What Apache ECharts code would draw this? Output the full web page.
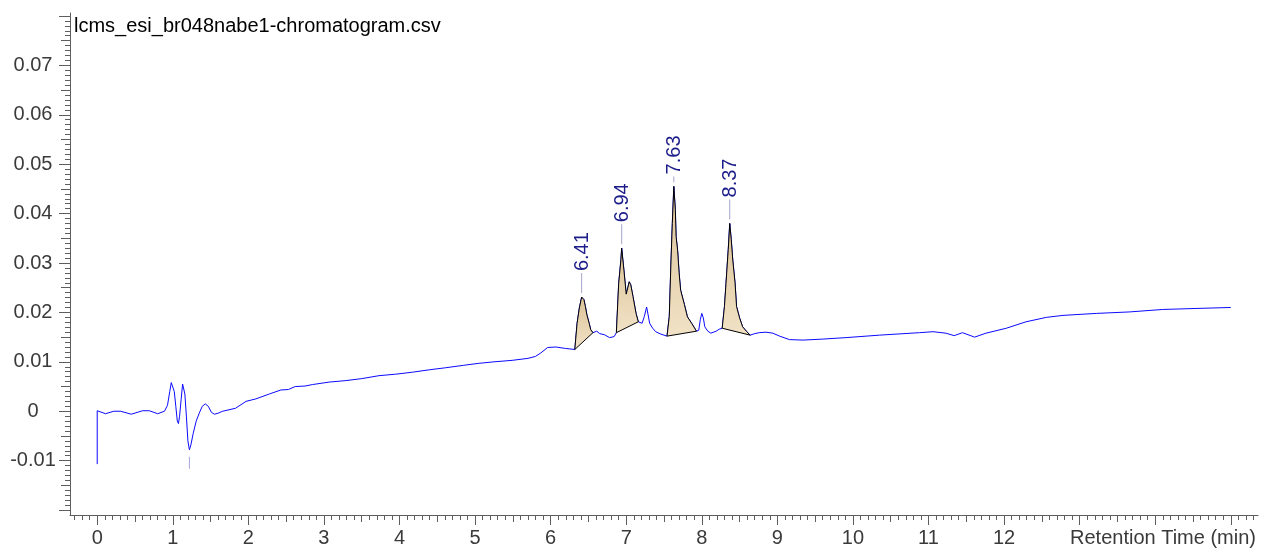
<!DOCTYPE html>
<html><head><meta charset="utf-8">
<script src="https://cdn.jsdelivr.net/npm/echarts@6/dist/echarts.min.js"></script>
<style>html,body{margin:0;padding:0;background:#fff}#c{width:1261px;height:548px}</style>
</head><body><div id="c"></div>
<script>
const chartTitle = 'lcms_esi_br048nabe1-chromatogram.csv';
const xAxisName = 'Retention Time (min)';
const times = [0.00,0.00,0.02,0.11,0.22,0.31,0.45,0.60,0.69,0.80,0.89,0.93,0.96,0.98,1.00,1.02,1.04,1.06,1.075,1.09,1.11,1.13,1.145,1.16,1.18,1.20,1.22,1.24,1.27,1.31,1.35,1.39,1.43,1.47,1.51,1.55,1.60,1.66,1.83,1.97,2.10,2.28,2.43,2.53,2.62,2.75,2.85,3.07,3.29,3.50,3.73,3.95,4.17,4.40,4.61,4.85,5.05,5.25,5.49,5.70,5.80,5.87,5.96,6.07,6.20,6.32,6.35,6.38,6.41,6.44,6.46,6.48,6.51,6.53,6.56,6.61,6.65,6.71,6.78,6.84,6.87,6.90,6.93,6.94,6.97,7.00,7.04,7.06,7.09,7.13,7.16,7.21,7.24,7.27,7.29,7.31,7.35,7.39,7.46,7.54,7.57,7.59,7.61,7.63,7.65,7.66,7.68,7.70,7.72,7.77,7.81,7.87,7.93,7.96,7.98,8.00,8.02,8.04,8.08,8.12,8.19,8.23,8.27,8.30,8.32,8.35,8.37,8.39,8.41,8.44,8.46,8.50,8.54,8.59,8.64,8.70,8.76,8.85,8.94,9.03,9.16,9.34,9.60,9.91,10.35,10.88,11.06,11.23,11.34,11.45,11.61,11.76,12.03,12.29,12.56,12.78,13.22,13.66,14.10,14.54,15.00];
const signal = [-0.0107,0.0001,-0.0001,-0.0005,0.0000,0.0000,-0.0006,0.0001,0.0001,-0.0005,0.0000,0.0012,0.0040,0.0058,0.0058,0.0040,0.0010,-0.0020,-0.0025,-0.0010,0.0023,0.0055,0.0058,0.0035,-0.0010,-0.0060,-0.0078,-0.0068,-0.0045,-0.0020,-0.0004,0.0010,0.0015,0.0010,-0.0002,-0.0006,-0.0004,0.0000,0.0006,0.0020,0.0025,0.0035,0.0043,0.0044,0.0050,0.0051,0.0054,0.0059,0.0062,0.0066,0.0072,0.0075,0.0079,0.0084,0.0088,0.0093,0.0097,0.0100,0.0103,0.0107,0.0111,0.0118,0.0129,0.0130,0.0127,0.0125,0.0178,0.0209,0.0231,0.0226,0.0212,0.0195,0.0178,0.0165,0.0159,0.0162,0.0157,0.0155,0.0149,0.0151,0.0159,0.0258,0.0307,0.0330,0.0285,0.0237,0.0262,0.0256,0.0232,0.0198,0.0181,0.0178,0.0192,0.0211,0.0195,0.0178,0.0168,0.0161,0.0156,0.0152,0.0192,0.0292,0.0380,0.0455,0.0408,0.0354,0.0326,0.0280,0.0245,0.0216,0.0191,0.0177,0.0162,0.0164,0.0185,0.0198,0.0189,0.0171,0.0162,0.0158,0.0162,0.0166,0.0168,0.0212,0.0258,0.0327,0.0380,0.0347,0.0306,0.0260,0.0212,0.0189,0.0171,0.0162,0.0154,0.0157,0.0159,0.0160,0.0158,0.0152,0.0145,0.0144,0.0146,0.0149,0.0154,0.0159,0.0161,0.0158,0.0153,0.0159,0.0150,0.0158,0.0168,0.0181,0.0190,0.0194,0.0198,0.0201,0.0206,0.0208,0.0210];
const peakNames = ['6.41','6.94','7.63','8.37'];
const peakApexTimes = [6.41,6.94,7.63,8.37];
const peakStarts = [6.32,6.87,7.54,8.27];
const peakEnds = [6.56,7.16,7.93,8.64];
const markerTimes = [1.22];
const xTickLabels = [0,1,2,3,4,5,6,7,8,9,10,11,12];
const yTickLabels = [-0.01,0,0.01,0.02,0.03,0.04,0.05,0.06,0.07];

const X_MIN = -0.36, X_MAX = 15.36, Y_MIN = -0.021, Y_MAX = 0.0806;
const axisColor = '#5e5e5e';
const labelColor = '#3a3a3a';
const FONT = '"Liberation Sans", Arial, sans-serif';
const FS = 20;
// label placement (pixels above apex for text bottom), styling only
const labelLift = [26, 26, 12, 26];

function range(a, b, step, filt) {
  const out = [];
  const n = Math.round((b - a) / step);
  for (let i = 0; i <= n; i++) {
    const v = +(a + i * step).toFixed(6);
    if (!filt || filt(v)) out.push(v);
  }
  return out;
}
const near = (v, s) => Math.abs(v / s - Math.round(v / s)) < 1e-6;
const xMajor = range(0, 15, 1);
const xMed = range(0.5, 14.5, 1);
const xMinor = range(-0.3, 15.3, 0.1, v => !near(v, 0.5));
const yMajor = range(-0.02, 0.08, 0.01);
const yMed = range(-0.015, 0.075, 0.01);
const yMinor = range(-0.02, 0.08, 0.001, v => !near(v, 0.005));

const pts = times.map((t, i) => [t, signal[i]]);
function valueAt(t) {
  let best = 0;
  for (let i = 0; i < times.length; i++) if (Math.abs(times[i] - t) < Math.abs(times[best] - t)) best = i;
  return signal[best];
}

function xAx(ticks, len, main) {
  return {
    type: 'value', min: X_MIN, max: X_MAX, position: 'bottom',
    axisLine: { show: !!main, onZero: false, lineStyle: { color: axisColor, width: 1 } },
    axisTick: { show: true, customValues: ticks, length: len, lineStyle: { color: axisColor, width: 1 } },
    axisLabel: main ? { show: true, customValues: xTickLabels, margin: 13, color: labelColor, fontSize: FS, fontFamily: FONT } : { show: false },
    splitLine: { show: false },
    name: main ? xAxisName : '', nameLocation: 'end', nameGap: -2,
    nameTextStyle: { align: 'right', verticalAlign: 'top', color: labelColor, fontSize: FS, fontFamily: FONT, padding: [13, 0, 0, 0] }
  };
}
function yAx(ticks, len, main) {
  return {
    type: 'value', min: Y_MIN, max: Y_MAX, position: 'left',
    axisLine: { show: !!main, onZero: false, lineStyle: { color: axisColor, width: 1 } },
    axisTick: { show: true, customValues: ticks, length: len, lineStyle: { color: axisColor, width: 1 } },
    axisLabel: main ? { show: true, customValues: yTickLabels, margin: 37, align: 'center', color: labelColor, fontSize: FS, fontFamily: FONT,
      formatter: v => String(+(+v).toFixed(3)) } : { show: false },
    splitLine: { show: false }
  };
}

const chart = echarts.init(document.getElementById('c'), null, { renderer: 'canvas' });
chart.setOption({
  animation: false,
  backgroundColor: '#fff',
  title: { text: chartTitle, left: 74, top: 16, padding: 0,
    textStyle: { fontSize: FS, fontWeight: 'normal', color: '#000', fontFamily: FONT } },
  grid: { left: 70, right: 3, top: 13, bottom: 33, containLabel: false },
  xAxis: [xAx(xMajor, 10, true), xAx(xMed, 7, false), xAx(xMinor, 5, false)],
  yAxis: [yAx(yMajor, 11, true), yAx(yMed, 9, false), yAx(yMinor, 5, false)],
  series: [
    {
      type: 'line', data: pts, showSymbol: false, symbol: 'none',
      lineStyle: { color: '#0a0aff', width: 1 }, z: 2
    },
    {
      type: 'custom', data: peakNames.map((n, i) => i), clip: false, z: 3,
      renderItem(params, api) {
        const i = params.dataIndex;
        const poly = [];
        for (let k = 0; k < times.length; k++) {
          if (times[k] >= peakStarts[i] - 1e-9 && times[k] <= peakEnds[i] + 1e-9) poly.push(api.coord([times[k], signal[k]]));
        }
        return {
          type: 'polygon', shape: { points: poly },
          style: {
            fill: new echarts.graphic.LinearGradient(0, 0, 0, 1, [
              { offset: 0, color: '#dcc399' }, { offset: 1, color: '#f1e2c6' }]),
            stroke: '#000', lineWidth: 1
          }
        };
      }
    },
    {
      type: 'custom', data: peakNames.map((n, i) => i), clip: false, z: 4,
      renderItem(params, api) {
        const i = params.dataIndex;
        const p = api.coord([peakApexTimes[i], valueAt(peakApexTimes[i])]);
        const textBottom = p[1] - labelLift[i];
        return {
          type: 'group', children: [
            { type: 'line', shape: { x1: p[0], y1: p[1] - 4, x2: p[0], y2: textBottom + 2 }, style: { stroke: '#a4a4cc', lineWidth: 1 } },
            { type: 'text', x: p[0] + 1, y: textBottom, rotation: Math.PI / 2,
              style: { text: peakNames[i], fill: '#1c1c8a', fontSize: FS, fontFamily: FONT, align: 'left', verticalAlign: 'middle' } }
          ]
        };
      }
    },
    {
      type: 'custom', data: markerTimes.map((t, i) => i), clip: false, z: 4,
      renderItem(params, api) {
        const t = markerTimes[params.dataIndex];
        const p = api.coord([t, valueAt(t)]);
        return { type: 'line', shape: { x1: p[0], y1: p[1] + 7, x2: p[0], y2: p[1] + 19 }, style: { stroke: '#a4a4dd', lineWidth: 1 } };
      }
    }
  ]
});
</script></body></html>
